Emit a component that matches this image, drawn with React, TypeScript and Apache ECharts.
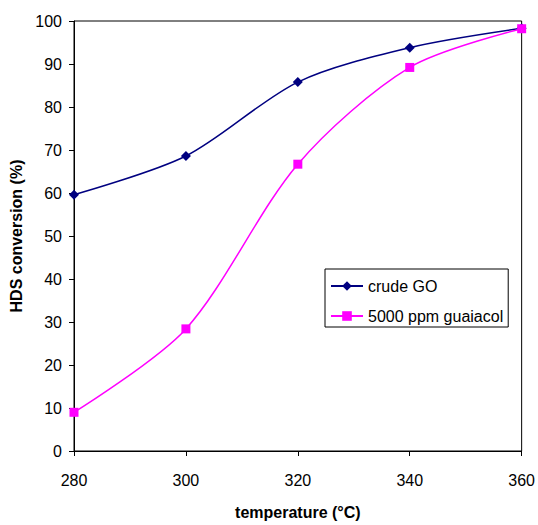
import React, { useEffect, useRef } from "react";
import * as echarts from "echarts";

const temperatures = [280, 300, 320, 340, 360];
const crudeGO = [59.6, 68.6, 85.8, 93.8, 98.3];
const guaiacol = [9.0, 28.4, 66.7, 89.2, 98.2];
const seriesNames = ["crude GO", "5000 ppm guaiacol"];

const FONT = "'Liberation Sans', Arial, sans-serif";

export default function App() {
  const ref = useRef<HTMLDivElement>(null);
  useEffect(() => {
    if (!ref.current) return;
    const chart = echarts.init(ref.current, null, { renderer: "svg" });
    chart.setOption({
      animation: false,
      backgroundColor: "#ffffff",
      textStyle: { fontFamily: FONT },
      grid: {
        left: 74,
        right: 14,
        top: 21,
        bottom: 69,
        show: true,
        borderColor: "#000",
        borderWidth: 1,
        backgroundColor: "transparent",
      },
      legend: {
        left: 325,
        top: 269,
        orient: "vertical",
        itemWidth: 32,
        itemHeight: 12,
        itemGap: 14,
        padding: [9, 5, 3, 5],
        borderColor: "#000",
        borderWidth: 1,
        backgroundColor: "#fff",
        textStyle: { fontSize: 16, color: "#000", fontFamily: FONT, lineHeight: 16 },
        data: seriesNames,
      },
      xAxis: {
        type: "value",
        min: 280,
        max: 360,
        interval: 20,
        name: "temperature (°C)",
        nameLocation: "middle",
        nameGap: 53,
        nameTextStyle: { fontSize: 16, fontWeight: "bold", color: "#000", fontFamily: FONT },
        axisLine: { show: true, lineStyle: { color: "#000", width: 1 } },
        axisTick: { show: true, inside: false, length: 5, lineStyle: { color: "#000" } },
        axisLabel: { fontSize: 16, color: "#000", margin: 21, fontFamily: FONT },
        splitLine: { show: false },
      },
      yAxis: {
        type: "value",
        min: 0,
        max: 100,
        interval: 10,
        name: "HDS conversion (%)",
        nameLocation: "middle",
        nameGap: 48,
        nameTextStyle: { fontSize: 16, fontWeight: "bold", color: "#000", fontFamily: FONT },
        axisLine: { show: true, lineStyle: { color: "#000", width: 1 } },
        axisTick: { show: true, inside: false, length: 5, lineStyle: { color: "#000" } },
        axisLabel: { fontSize: 16, color: "#000", margin: 12, fontFamily: FONT },
        splitLine: { show: false },
      },
      series: [
        {
          name: seriesNames[0],
          type: "line",
          smooth: 0.3,
          data: temperatures.map((t, i) => [t, crudeGO[i]]),
          symbol: "diamond",
          symbolSize: 10,
          itemStyle: { color: "#000080" },
          lineStyle: { color: "#000080", width: 1.5 },
          clip: false,
          z: 3,
        },
        {
          name: seriesNames[1],
          type: "line",
          smooth: 0.3,
          data: temperatures.map((t, i) => [t, guaiacol[i]]),
          symbol: "rect",
          symbolSize: 9,
          itemStyle: { color: "#ff00ff" },
          lineStyle: { color: "#ff00ff", width: 1.5 },
          clip: false,
          z: 4,
        },
      ],
    });
    return () => chart.dispose();
  }, []);
  return <div ref={ref} style={{ width: 538, height: 525, position: "absolute", left: 0, top: 0 }} />;
}
